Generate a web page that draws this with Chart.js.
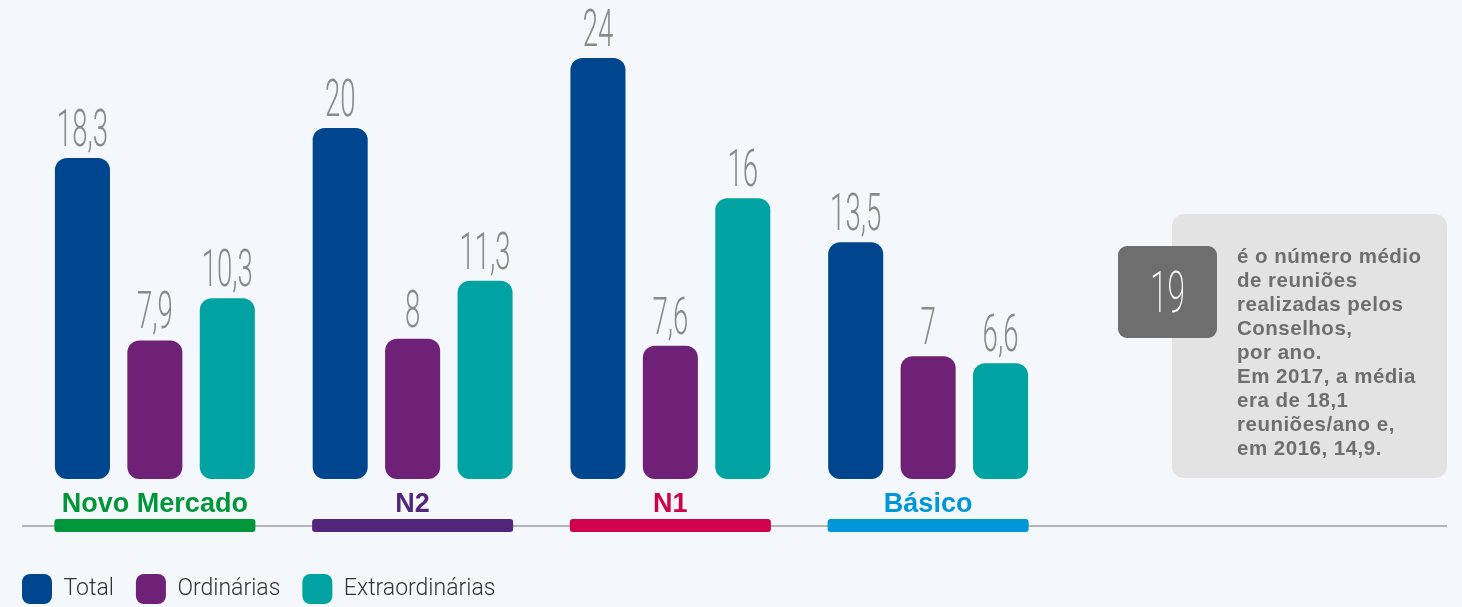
<!DOCTYPE html>
<html lang="pt">
<head>
<meta charset="UTF-8" />
<title>Reuniões dos Conselhos por segmento</title>
<script src="https://cdn.jsdelivr.net/npm/chart.js"></script>
<style>
  html, body { margin: 0; padding: 0; background: #f4f8fc; }
  #wrap { position: relative; width: 1462px; height: 607px; overflow: hidden; }
  #chart { position: absolute; left: 0; top: 0; }
  #note { position: absolute; left: 1172px; top: 214px; width: 275px; height: 264px; background: #e3e3e3; border-radius: 12px; }
  #badge { position: absolute; left: 1118px; top: 246px; width: 99px; height: 92px; background: #6e6e6e; border-radius: 9px; }
  #badge span { position: absolute; left: 0; right: 0; top: 12px; text-align: center; color: #fff;
    font: 200 58px Roboto, sans-serif; transform: scaleX(0.55); }
  #noteText { position: absolute; left: 1237px; top: 244px; color: #6e6e6e;
    font: bold 20.5px "Liberation Sans", Arial, sans-serif; line-height: 24px; letter-spacing: 0.5px; }
</style>
</head>
<body>
<div id="wrap">
  <canvas id="chart" width="1462" height="607"></canvas>
  <div id="note"></div>
  <div id="badge"><span>19</span></div>
  <div id="noteText">é o número médio<br>de reuniões<br>realizadas pelos<br>Conselhos,<br>por ano.<br>Em 2017, a média<br>era de 18,1<br>reuniões/ano e,<br>em 2016, 14,9.</div>
</div>

<script>
  const categories = ['Novo Mercado', 'N2', 'N1', 'Básico'];
  const categoryColors = ['#00973a', '#52277b', '#d1004d', '#0097d8'];
  const seriesNames = ['Total', 'Ordinárias', 'Extraordinárias'];
  const seriesColors = ['#00468e', '#6f2077', '#00a3a2'];
  const total = [18.3, 20, 24, 13.5];
  const ordinarias = [7.9, 8, 7.6, 7];
  const extraordinarias = [10.3, 11.3, 16, 6.6];

  // numbers over the bars, thin and narrow
  const valueLabels = {
    id: 'valueLabels',
    afterDatasetsDraw(chart) {
      const ctx = chart.ctx;
      chart.data.datasets.forEach((ds, i) => {
        chart.getDatasetMeta(i).data.forEach((bar, j) => {
          const txt = String(ds.data[j]).replace('.', ',');
          ctx.save();
          ctx.translate(bar.x, bar.y - 12);
          ctx.scale(0.53, 1);
          ctx.font = '300 52px Roboto';
          ctx.fillStyle = '#8a8a8a';
          ctx.textAlign = 'center';
          ctx.textBaseline = 'alphabetic';
          ctx.fillText(txt, 0, 0);
          ctx.restore();
        });
      });
    }
  };

  // grey base line plus the coloured strip under each segment
  const segmentStrips = {
    id: 'segmentStrips',
    afterDraw(chart) {
      const ctx = chart.ctx;
      const x = chart.scales.x;
      const bottom = chart.chartArea.bottom;
      ctx.save();
      ctx.fillStyle = '#b5b5b5';
      ctx.fillRect(22, bottom + 46, 1425, 2);
      const half = (x.width / categories.length) * 0.39;
      categories.forEach((c, i) => {
        const cx = x.getPixelForValue(i);
        ctx.fillStyle = categoryColors[i];
        ctx.beginPath();
        ctx.roundRect(cx - half, bottom + 40, half * 2, 13, 3);
        ctx.fill();
      });
      ctx.restore();
    }
  };

  const mkSet = (i, data) => ({
    label: seriesNames[i],
    data: data,
    backgroundColor: seriesColors[i],
    borderWidth: 0,
    borderRadius: 12,
    borderSkipped: false,
    categoryPercentage: 0.843,
    barPercentage: 0.76
  });

  new Chart(document.getElementById('chart'), {
    type: 'bar',
    data: {
      labels: categories,
      datasets: [mkSet(0, total), mkSet(1, ordinarias), mkSet(2, extraordinarias)]
    },
    options: {
      responsive: false,
      animation: false,
      events: [],
      layout: { padding: { top: 0, right: 405, bottom: -7, left: 0 } },
      plugins: {
        tooltip: { enabled: false },
        legend: {
          position: 'bottom',
          align: 'start',
          labels: {
            boxWidth: 30,
            boxHeight: 30,
            useBorderRadius: true,
            borderRadius: 8,
            padding: 22,
            color: '#333',
            font: { family: 'Roboto', weight: '300', size: 23 }
          }
        }
      },
      scales: {
        x: {
          grid: { display: false },
          border: { display: false },
          ticks: {
            color: categoryColors,
            padding: 1,
            font: { family: 'Liberation Sans', weight: 'bold', size: 27 }
          },
          afterFit: (s) => { s.height = 73; }
        },
        y: {
          min: 0,
          max: 27.3,
          grid: { display: false },
          border: { display: false },
          ticks: { display: false },
          afterFit: (s) => { s.width = 26; }
        }
      }
    },
    plugins: [valueLabels, segmentStrips]
  });
</script>
</body>
</html>
